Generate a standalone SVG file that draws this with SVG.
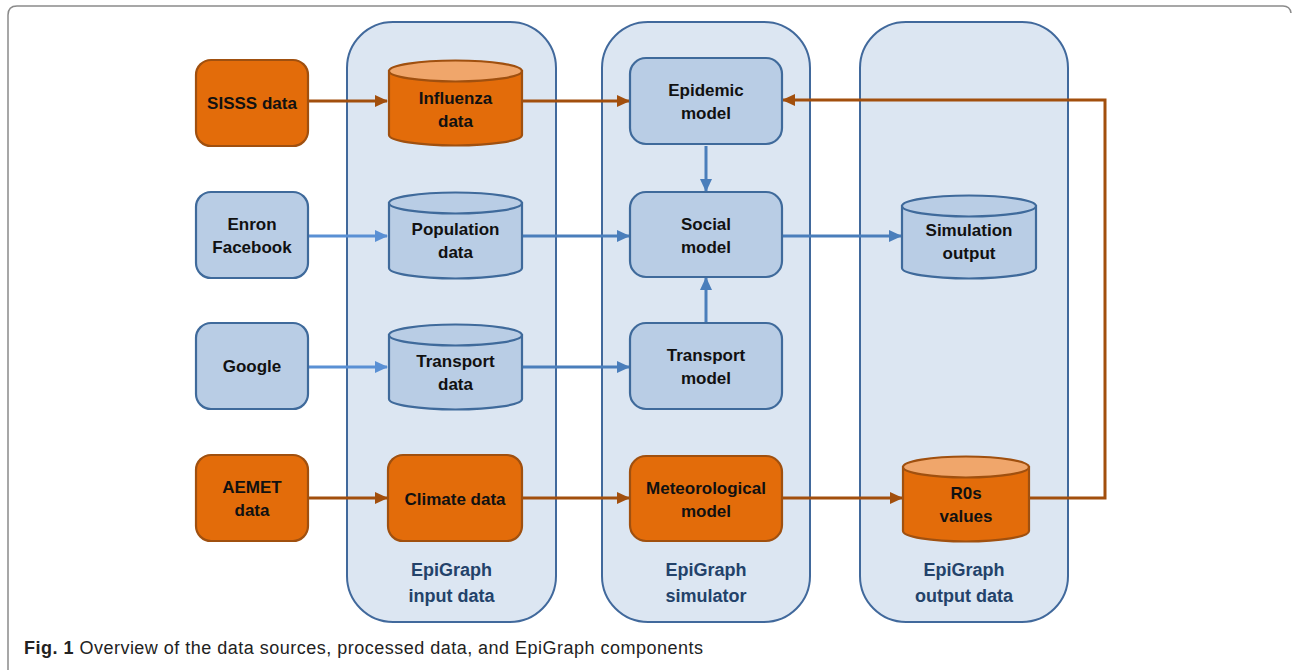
<svg xmlns="http://www.w3.org/2000/svg" width="1292" height="670" viewBox="0 0 1292 670">
<defs>
<style>
.frame{fill:none;stroke:#8a8a8a;stroke-width:1.5}
.cont{fill:#dce6f2;stroke:#41699c;stroke-width:2}
.bnode{fill:#b9cde5;stroke:#3f6a9b;stroke-width:2.2}
.onode{fill:#e36c0a;stroke:#a0500f;stroke-width:2.2}
.otop{fill:#f0a66b;stroke:#a0500f;stroke-width:2.2}
.btop{fill:#b9cde5;stroke:#3f6a9b;stroke-width:2.2}
.t{font-family:"Liberation Sans",Arial,sans-serif;font-weight:bold;font-size:17px;fill:#111;text-anchor:middle}
.ct{font-family:"Liberation Sans",Arial,sans-serif;font-weight:bold;font-size:18px;fill:#23426a;text-anchor:middle}
.cap{font-family:"Liberation Sans",Arial,sans-serif;font-size:18px;fill:#222}
.oa{fill:none;stroke:#a24f0d;stroke-width:3;marker-end:url(#ah-o)}
.ba{fill:none;stroke:#4a7ebb;stroke-width:3;marker-end:url(#ah-b)}
.la{fill:none;stroke:#5a90d4;stroke-width:3;marker-end:url(#ah-l)}
</style>
<marker id="ah-o" markerUnits="userSpaceOnUse" markerWidth="14" markerHeight="14" refX="12" refY="7" orient="auto"><path d="M0,1 L13,7 L0,13 Z" fill="#a24f0d"/></marker>
<marker id="ah-b" markerUnits="userSpaceOnUse" markerWidth="14" markerHeight="14" refX="12" refY="7" orient="auto"><path d="M0,1 L13,7 L0,13 Z" fill="#4a7ebb"/></marker>
<marker id="ah-l" markerUnits="userSpaceOnUse" markerWidth="14" markerHeight="14" refX="12" refY="7" orient="auto"><path d="M0,1 L13,7 L0,13 Z" fill="#5a90d4"/></marker>
</defs>

<path class="frame" d="M8,670 L8,15 Q8,6 17,6 L1283,6 Q1290,6 1291,13"/>

<g id="containers">
<g id="input-container"><rect class="cont" x="347" y="22" width="209" height="600" rx="46"/><text class="ct" x="451.5" y="576">EpiGraph</text><text class="ct" x="451.5" y="602">input data</text></g>
<g id="simulator-container"><rect class="cont" x="602" y="22" width="208" height="600" rx="46"/><text class="ct" x="706" y="576">EpiGraph</text><text class="ct" x="706" y="602">simulator</text></g>
<g id="output-container"><rect class="cont" x="860" y="22" width="208" height="600" rx="46"/><text class="ct" x="964" y="576">EpiGraph</text><text class="ct" x="964" y="602">output data</text></g>
</g>

<g id="connectors">
<path class="oa" d="M308,101 L387,101"/>
<path class="oa" d="M522,101 L629,101"/>
<path class="oa" d="M1030,498 L1105,498 L1105,100 L783,100"/>
<path class="la" d="M308,236 L387,236"/>
<path class="ba" d="M522,236 L629,236"/>
<path class="ba" d="M782,236 L901,236"/>
<path class="la" d="M308,367 L387,367"/>
<path class="ba" d="M522,367 L629,367"/>
<path class="ba" d="M706,322 L706,278"/>
<path class="ba" d="M706,146 L706,191"/>
<path class="oa" d="M308,498 L387,498"/>
<path class="oa" d="M522,498 L629,498"/>
<path class="oa" d="M782,498 L902,498"/>
</g>

<g id="sisss"><rect class="onode" x="196" y="60" width="112" height="86" rx="15"/><text class="t" x="252" y="109">SISSS data</text></g>
<g id="enron"><rect class="bnode" x="196" y="192" width="112" height="86" rx="15"/><text class="t" x="252" y="230">Enron</text><text class="t" x="252" y="253">Facebook</text></g>
<g id="google"><rect class="bnode" x="196" y="323" width="112" height="86" rx="15"/><text class="t" x="252" y="372">Google</text></g>
<g id="aemet"><rect class="onode" x="196" y="455" width="112" height="86" rx="15"/><text class="t" x="252" y="493">AEMET</text><text class="t" x="252" y="516">data</text></g>

<g id="influenza"><path class="onode" d="M389,71 L389,135 A66.5,10.5 0 0 0 522,135 L522,71 Z"/><ellipse class="otop" cx="455.5" cy="71" rx="66.5" ry="10.5"/><text class="t" x="455.5" y="104">Influenza</text><text class="t" x="455.5" y="127">data</text></g>
<g id="population"><path class="bnode" d="M389,203 L389,268 A66.5,10.5 0 0 0 522,268 L522,203 Z"/><ellipse class="btop" cx="455.5" cy="203" rx="66.5" ry="10.5"/><text class="t" x="455.5" y="235">Population</text><text class="t" x="455.5" y="258">data</text></g>
<g id="transport-data"><path class="bnode" d="M389,335 L389,399 A66.5,10.5 0 0 0 522,399 L522,335 Z"/><ellipse class="btop" cx="455.5" cy="335" rx="66.5" ry="10.5"/><text class="t" x="455.5" y="367">Transport</text><text class="t" x="455.5" y="390">data</text></g>
<g id="climate"><rect class="onode" x="388" y="455" width="134" height="86" rx="15"/><text class="t" x="455" y="505">Climate data</text></g>

<g id="epidemic"><rect class="bnode" x="630" y="58" width="152" height="86" rx="16"/><text class="t" x="706" y="96">Epidemic</text><text class="t" x="706" y="119">model</text></g>
<g id="social"><rect class="bnode" x="630" y="192" width="152" height="85" rx="16"/><text class="t" x="706" y="230">Social</text><text class="t" x="706" y="253">model</text></g>
<g id="transport-model"><rect class="bnode" x="630" y="323" width="152" height="86" rx="16"/><text class="t" x="706" y="361">Transport</text><text class="t" x="706" y="384">model</text></g>
<g id="meteorological"><rect class="onode" x="630" y="456" width="152" height="85" rx="16"/><text class="t" x="706" y="494">Meteorological</text><text class="t" x="706" y="517">model</text></g>

<g id="simulation-output"><path class="bnode" d="M902,206 L902,268 A67,10.5 0 0 0 1036,268 L1036,206 Z"/><ellipse class="btop" cx="969" cy="206" rx="67" ry="10.5"/><text class="t" x="969" y="236">Simulation</text><text class="t" x="969" y="259">output</text></g>
<g id="r0s"><path class="onode" d="M903,467 L903,531 A63,10.5 0 0 0 1029,531 L1029,467 Z"/><ellipse class="otop" cx="966" cy="467" rx="63" ry="10.5"/><text class="t" x="966" y="499">R0s</text><text class="t" x="966" y="522">values</text></g>

<text class="cap" x="24" y="654" textLength="679" lengthAdjust="spacing"><tspan font-weight="bold">Fig. 1</tspan> Overview of the data sources, processed data, and EpiGraph components</text>
</svg>
